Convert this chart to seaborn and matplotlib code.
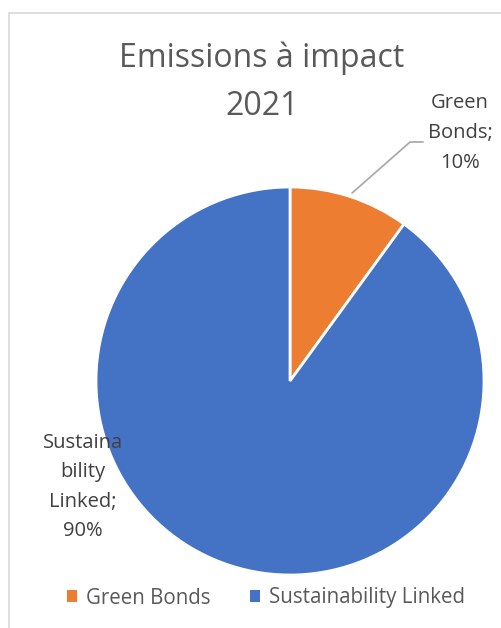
import matplotlib
matplotlib.use("Agg")
import matplotlib.pyplot as plt
from matplotlib.patches import Rectangle, Patch
import seaborn as sns

sns.set_theme(style="white")
plt.rcParams['font.family'] = ['Open Sans', 'DejaVu Sans']

categories = ["Green Bonds", "Sustainability Linked"]
values = [10, 90]
colors = ["#ED7D31", "#4472C4"]
title = "Emissions à impact\n2021"
label_texts = ["Green\nBonds;\n10%", "Sustaina\nbility\nLinked;\n90%"]

W, H = 501, 628
fig = plt.figure(figsize=(W / 100, H / 100), dpi=100)
fig.patch.set_facecolor("white")

# chart border (extends beyond the right/bottom edges)
fig.patches.append(Rectangle((9 / W, -0.05), 1.2, 1 - 13 / H + 0.05,
                             transform=fig.transFigure, fill=False,
                             edgecolor="#D9D9D9", linewidth=1.2))

cx, cy, r = 290, 381, 194
ax = fig.add_axes([(cx - r) / W, (H - cy - r) / H, 2 * r / W, 2 * r / H])
ax.pie(values, colors=colors, startangle=90, counterclock=False,
       wedgeprops=dict(edgecolor="white", linewidth=2))
ax.set_xlim(-1, 1)
ax.set_ylim(-1, 1)
ax.set_aspect("equal")
ax.axis("off")

txt_color = "#404040"
# data labels
ax.text(0.876, 1.278, label_texts[0], ha="center", va="center", fontsize=14.5,
        color=txt_color, linespacing=1.66, clip_on=False)
ax.text(-1.067, -0.546, label_texts[1], ha="center", va="center", fontsize=14.5,
        color=txt_color, linespacing=1.63, clip_on=False)
ax.plot([0.32, 0.619, 0.686], [0.969, 1.232, 1.232], color="#A6A6A6",
        linewidth=1.2, clip_on=False)

fig.text(262 / W, 1 - 82 / H, title, ha="center", va="center", fontsize=23,
         color="#595959", linespacing=1.6)

handles = [Patch(facecolor=c, edgecolor="none") for c in colors]
fig.legend(handles, categories, loc="center", bbox_to_anchor=(266 / W, 1 - 598 / H),
           ncol=2, frameon=False, fontsize=14.8, handlelength=0.5, handleheight=0.5,
           handletextpad=0.45, columnspacing=1.9, labelcolor="#595959")

fig.savefig("out.png", dpi=100)
